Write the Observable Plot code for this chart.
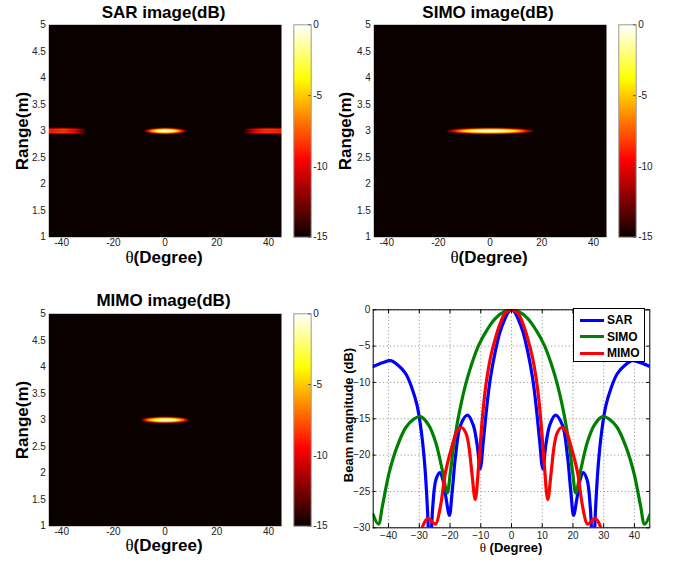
<!DOCTYPE html>
<html><head><meta charset="utf-8">
<script src="https://cdn.jsdelivr.net/npm/d3@7"></script>
<script src="https://cdn.jsdelivr.net/npm/@observablehq/plot@0.6"></script>
<style>
body{margin:0;background:#fff;}
#root{position:relative;width:676px;height:565px;overflow:hidden;font-family:"Liberation Sans",Arial,sans-serif;color:#000;}
.lbl{position:absolute;white-space:nowrap;font-weight:bold;transform:translate(-50%,-50%);line-height:0.9;}
.rot{transform:translate(-50%,-50%) rotate(-90deg);}
.th{font-family:"Liberation Serif","DejaVu Serif",serif;font-weight:normal;}
svg.plot{background:transparent;overflow:visible;}
</style></head><body><div id="root"></div>
<script>
// ---------- data ----------
const thetaTicks = [-40, -20, 0, 20, 40];
const rangeTicks = [1, 1.5, 2, 2.5, 3, 3.5, 4, 4.5, 5];
const cbTicks = [0, -5, -10, -15];
const beamXTicks = [-40, -30, -20, -10, 0, 10, 20, 30, 40];
const beamYTicks = [0, -5, -10, -15, -20, -25, -30];

const sarTheta = [-45, -42, -39.3, -37, -34.4, -32.3, -30.7, -29.3, -28.2, -27.4, -27.0, -26.55, -26.1, -25.6, -24.6, -23.3, -22.2, -21.2, -20.2, -19.3, -18.2, -16.6, -14.3, -12.5, -11.2, -10.2, -9.1, -8.0, -6.9, -5.3, -3.7, -2.1, -1.0, 0,
  1.0, 2.1, 3.7, 5.3, 6.9, 8.0, 9.1, 10.2, 11.2, 12.5, 14.3, 16.6, 18.2, 19.3, 20.2, 21.2, 22.2, 23.3, 24.6, 25.6, 26.1, 26.55, 27.0, 27.4, 28.2, 29.3, 30.7, 32.3, 34.4, 37, 39.3, 42, 45];
const sarDb = [-7.8, -7.3, -7.0, -7.6, -8.8, -10.9, -13.2, -16.9, -21.5, -27.0, -31, -36, -31, -27.0, -23.4, -22.4, -23.6, -26.2, -28.3, -25.0, -20.1, -15.9, -14.5, -15.8, -18.5, -21.9, -17.8, -13.2, -9.5, -5.8, -3.0, -1.2, -0.3, 0,
  -0.3, -1.2, -3.0, -5.8, -9.5, -13.2, -17.8, -21.9, -18.5, -15.8, -14.5, -15.9, -20.1, -25.0, -28.3, -26.2, -23.6, -22.4, -23.4, -27.0, -31, -36, -31, -27.0, -21.5, -16.9, -13.2, -10.9, -8.8, -7.6, -7.0, -7.3, -7.8];

const simoTheta = [-45, -43.3, -42, -39.8, -37.1, -34.4, -31.7, -29.6, -26.9, -24.7, -22.6, -20.9, -19.9, -18.8, -17.2, -15.0, -12.9, -10.7, -8.0, -5.3, -2.1, 0,
  2.1, 5.3, 8.0, 10.7, 12.9, 15.0, 17.2, 18.8, 19.9, 20.9, 22.6, 24.7, 26.9, 29.6, 31.7, 34.4, 37.1, 39.8, 42, 43.3, 45];
const simoDb = [-28.2, -29.5, -27.0, -22.4, -18.7, -16.2, -15.0, -14.7, -15.9, -18.2, -21.9, -25.2, -22.4, -18.7, -14.6, -10.4, -7.4, -4.9, -2.8, -1.2, -0.2, 0,
  -0.2, -1.2, -2.8, -4.9, -7.4, -10.4, -14.6, -18.7, -22.4, -25.2, -21.9, -18.2, -15.9, -14.7, -15.0, -16.2, -18.7, -22.4, -27.0, -29.5, -28.2];

const mimoTheta = [-29.6, -28.4, -27.1, -25.8, -24.7, -23.1, -21.5, -19.3, -17.8, -16.3, -14.9, -13.9, -12.9, -11.8, -10.7, -9.6, -8.5, -6.9, -5.3, -3.7, -2.1, 0,
  2.1, 3.7, 5.3, 6.9, 8.5, 9.6, 10.7, 11.8, 12.9, 13.9, 14.9, 16.3, 17.8, 19.3, 21.5, 23.1, 24.7, 25.8, 27.1, 28.4, 29.6];
const mimoDb = [-31, -29.3, -28.7, -29.2, -29.5, -27.0, -22.4, -18.7, -16.8, -16.2, -16.9, -18.7, -22.4, -26.1, -21.5, -15.5, -10.9, -6.7, -4.0, -1.9, -0.5, 0,
  -0.5, -1.9, -4.0, -6.7, -10.9, -15.5, -21.5, -26.1, -22.4, -18.7, -16.9, -16.2, -16.8, -18.7, -22.4, -27.0, -29.5, -29.2, -28.7, -29.3, -31];

// range profile of the target (offset from 3 m), main lobe
const targetRange = 3;
const rangeOffsets = [-0.14, -0.09, -0.065, -0.05, -0.035, -0.02, 0, 0.02, 0.035, 0.05, 0.065, 0.09, 0.14];
const rangeDb = [-40, -22, -15, -10, -5, -1.8, 0, -1.8, -5, -10, -15, -22, -40];
// range profile of the SAR grating lobes (split, thicker band)
const gratingStart = 24;
const gratingOffsets = [-0.14, -0.085, -0.06, -0.04, -0.022, -0.008, 0, 0.008, 0.022, 0.04, 0.06, 0.085, 0.14];
const gratingDb = [-40, -16, -7, -2, 0, -2.5, -3.5, -2.5, 0, -2, -7, -16, -40];

// ---------- helpers ----------
const root = document.getElementById("root");
function lookup(xs, ys, x, outside) {
  if (x < xs[0] || x > xs[xs.length - 1]) return outside;
  let i = d3.bisectRight(xs, x);
  if (i >= xs.length) return ys[xs.length - 1];
  if (i === 0) return ys[0];
  const t = (x - xs[i - 1]) / (xs[i] - xs[i - 1]);
  return ys[i - 1] + t * (ys[i] - ys[i - 1]);
}
function place(el, left, top) {
  el.style.position = "absolute"; el.style.left = left + "px"; el.style.top = top + "px";
  root.appendChild(el);
}
function label(html, cx, cy, size, rot) {
  const d = document.createElement("div");
  d.className = "lbl" + (rot ? " rot" : "");
  d.style.left = cx + "px"; d.style.top = cy + "px"; d.style.fontSize = size + "px";
  d.innerHTML = html;
  root.appendChild(d);
}
const hotColor = {type: "linear", domain: [-15, -9.52, -3.81, 0],
  range: ["rgb(11,0,0)", "rgb(255,0,0)", "rgb(255,255,0)", "rgb(255,255,255)"], clamp: true, interpolate: "rgb"};

function heatmap(theta, db, left, top, withGrating) {
  const value = (x, y) => {
    const useG = withGrating && Math.abs(x) > gratingStart;
    const r = useG ? lookup(gratingOffsets, gratingDb, y - targetRange, -40)
                   : lookup(rangeOffsets, rangeDb, y - targetRange, -40);
    return lookup(theta, db, x, -40) + r;
  };
  const p = Plot.plot({
    width: 290, height: 255,
    marginLeft: 48.3, marginRight: 9, marginTop: 24.3, marginBottom: 18.3,
    style: {background: "transparent", fontFamily: "Liberation Sans, Arial, sans-serif"},
    x: {domain: [-45, 45]},
    y: {domain: [1, 5]},
    color: hotColor,
    marks: [
      Plot.raster({fill: value, x1: -45, x2: 45, y1: 1, y2: 5, pixelSize: 0.5}),
      Plot.axisX({ticks: thetaTicks, tickSize: 0, tickPadding: 2, fontSize: 10, label: null, tickFormat: d => String(d), fill: "#222"}),
      Plot.axisY({ticks: rangeTicks, tickSize: 0, tickPadding: 3, fontSize: 10, label: null, tickFormat: d => String(d), fill: "#222"})
    ]
  });
  place(p, left, top);
}
function colorbar(left, top) {
  const p = Plot.plot({
    width: 40, height: 255,
    marginLeft: 0.3, marginRight: 22.3, marginTop: 24.3, marginBottom: 18.3,
    style: {background: "transparent", fontFamily: "Liberation Sans, Arial, sans-serif"},
    x: {domain: [0, 1], axis: null},
    y: {domain: [-15, 0]},
    color: hotColor,
    marks: [
      Plot.raster({fill: (x, y) => y, x1: 0, x2: 1, y1: -15, y2: 0, pixelSize: 1}),
      Plot.frame({stroke: "#9a9a9a"}),
      Plot.ruleY(cbTicks, {y: d => d, x1: 0.85, x2: 1, stroke: "#555"}),
      Plot.axisY({anchor: "right", ticks: cbTicks, tickSize: 0, tickPadding: 2, fontSize: 10, label: null, tickFormat: d => String(d), fill: "#222"})
    ]
  });
  place(p, left, top);
}

// ---------- heatmaps ----------
heatmap(sarTheta, sarDb, 0, 0, true);
colorbar(293, 0);
heatmap(simoTheta, simoDb, 325, 0, false);
colorbar(618, 0);
heatmap(mimoTheta, mimoDb, 0, 289, false);
colorbar(293, 289);

label("SAR image(dB)", 163.5, 13, 17);
label("SIMO image(dB)", 488, 13, 17);
label("MIMO image(dB)", 163.5, 301, 17);
const degHtml = '<span class="th">θ</span>(Degree)';
label(degHtml, 164, 258, 17);
label(degHtml, 489, 258, 17);
label(degHtml, 164, 546, 17);
label("Range(m)", 22.5, 131, 17, true);
label("Range(m)", 346, 131, 17, true);
label("Range(m)", 22.5, 420, 17, true);

// ---------- beam pattern ----------
const toRows = (T, D, s) => T.map((t, i) => ({theta: t, db: D[i], series: s}));
const sarRows = toRows(sarTheta, sarDb, "SAR");
const simoRows = toRows(simoTheta, simoDb, "SIMO");
const mimoRows = toRows(mimoTheta, mimoDb, "MIMO");
const colors = {SAR: "#0000ff", SIMO: "#008000", MIMO: "#ff0000"};

const beam = Plot.plot({
  width: 336, height: 285,
  marginLeft: 32.7, marginRight: 26.7, marginTop: 29.3, marginBottom: 37.7,
  style: {background: "transparent", fontFamily: "Liberation Sans, Arial, sans-serif"},
  x: {domain: [-45, 45]},
  y: {domain: [-30, 0]},
  marks: [
    Plot.gridX(beamXTicks, {stroke: "#8a8a8a", strokeOpacity: 1, strokeDasharray: "1,2.5"}),
    Plot.gridY(beamYTicks, {stroke: "#8a8a8a", strokeOpacity: 1, strokeDasharray: "1,2.5"}),
    Plot.line(sarRows, {x: "theta", y: "db", stroke: colors.SAR, strokeWidth: 3.2, curve: "catmull-rom", clip: true}),
    Plot.line(simoRows, {x: "theta", y: "db", stroke: colors.SIMO, strokeWidth: 3.2, curve: "catmull-rom", clip: true}),
    Plot.line(mimoRows, {x: "theta", y: "db", stroke: colors.MIMO, strokeWidth: 3.2, curve: "catmull-rom", clip: true}),
    Plot.ruleX(beamXTicks, {x: d => d, y1: -30, y2: -29.45, stroke: "#000"}),
    Plot.ruleX(beamXTicks, {x: d => d, y1: 0, y2: -0.55, stroke: "#000"}),
    Plot.ruleY(beamYTicks, {y: d => d, x1: -45, x2: -44, stroke: "#000"}),
    Plot.ruleY(beamYTicks, {y: d => d, x1: 45, x2: 44, stroke: "#000"}),
    Plot.frame({stroke: "#000", strokeWidth: 1}),
    Plot.axisX({ticks: beamXTicks, tickSize: 0, tickPadding: 4, fontSize: 10, label: null, fill: "#222"}),
    Plot.axisY({ticks: beamYTicks, tickSize: 0, tickPadding: 3, fontSize: 10, label: null, fill: "#222"})
  ]
});
place(beam, 340, 280);

label("Beam magnitude (dB)", 349, 415, 13, true);
label('<span class="th">θ</span> (Degree)', 511, 548, 13);

// legend
const seriesNames = ["SAR", "SIMO", "MIMO"];
const leg = document.createElement("div");
leg.style.cssText = "width:70px;height:52px;border:1px solid #000;background:#fff;";
seriesNames.forEach((s, i) => {
  const sw = document.createElement("div");
  sw.style.cssText = `position:absolute;left:6px;top:${9.5 + i * 16.5}px;width:24px;height:3px;background:${colors[s]};`;
  leg.appendChild(sw);
  const tx = document.createElement("div");
  tx.style.cssText = `position:absolute;left:33px;top:${4 + i * 16.5}px;font-weight:bold;font-size:12px;line-height:14px;`;
  tx.textContent = s;
  leg.appendChild(tx);
});
place(leg, 573, 308);
</script></body></html>
